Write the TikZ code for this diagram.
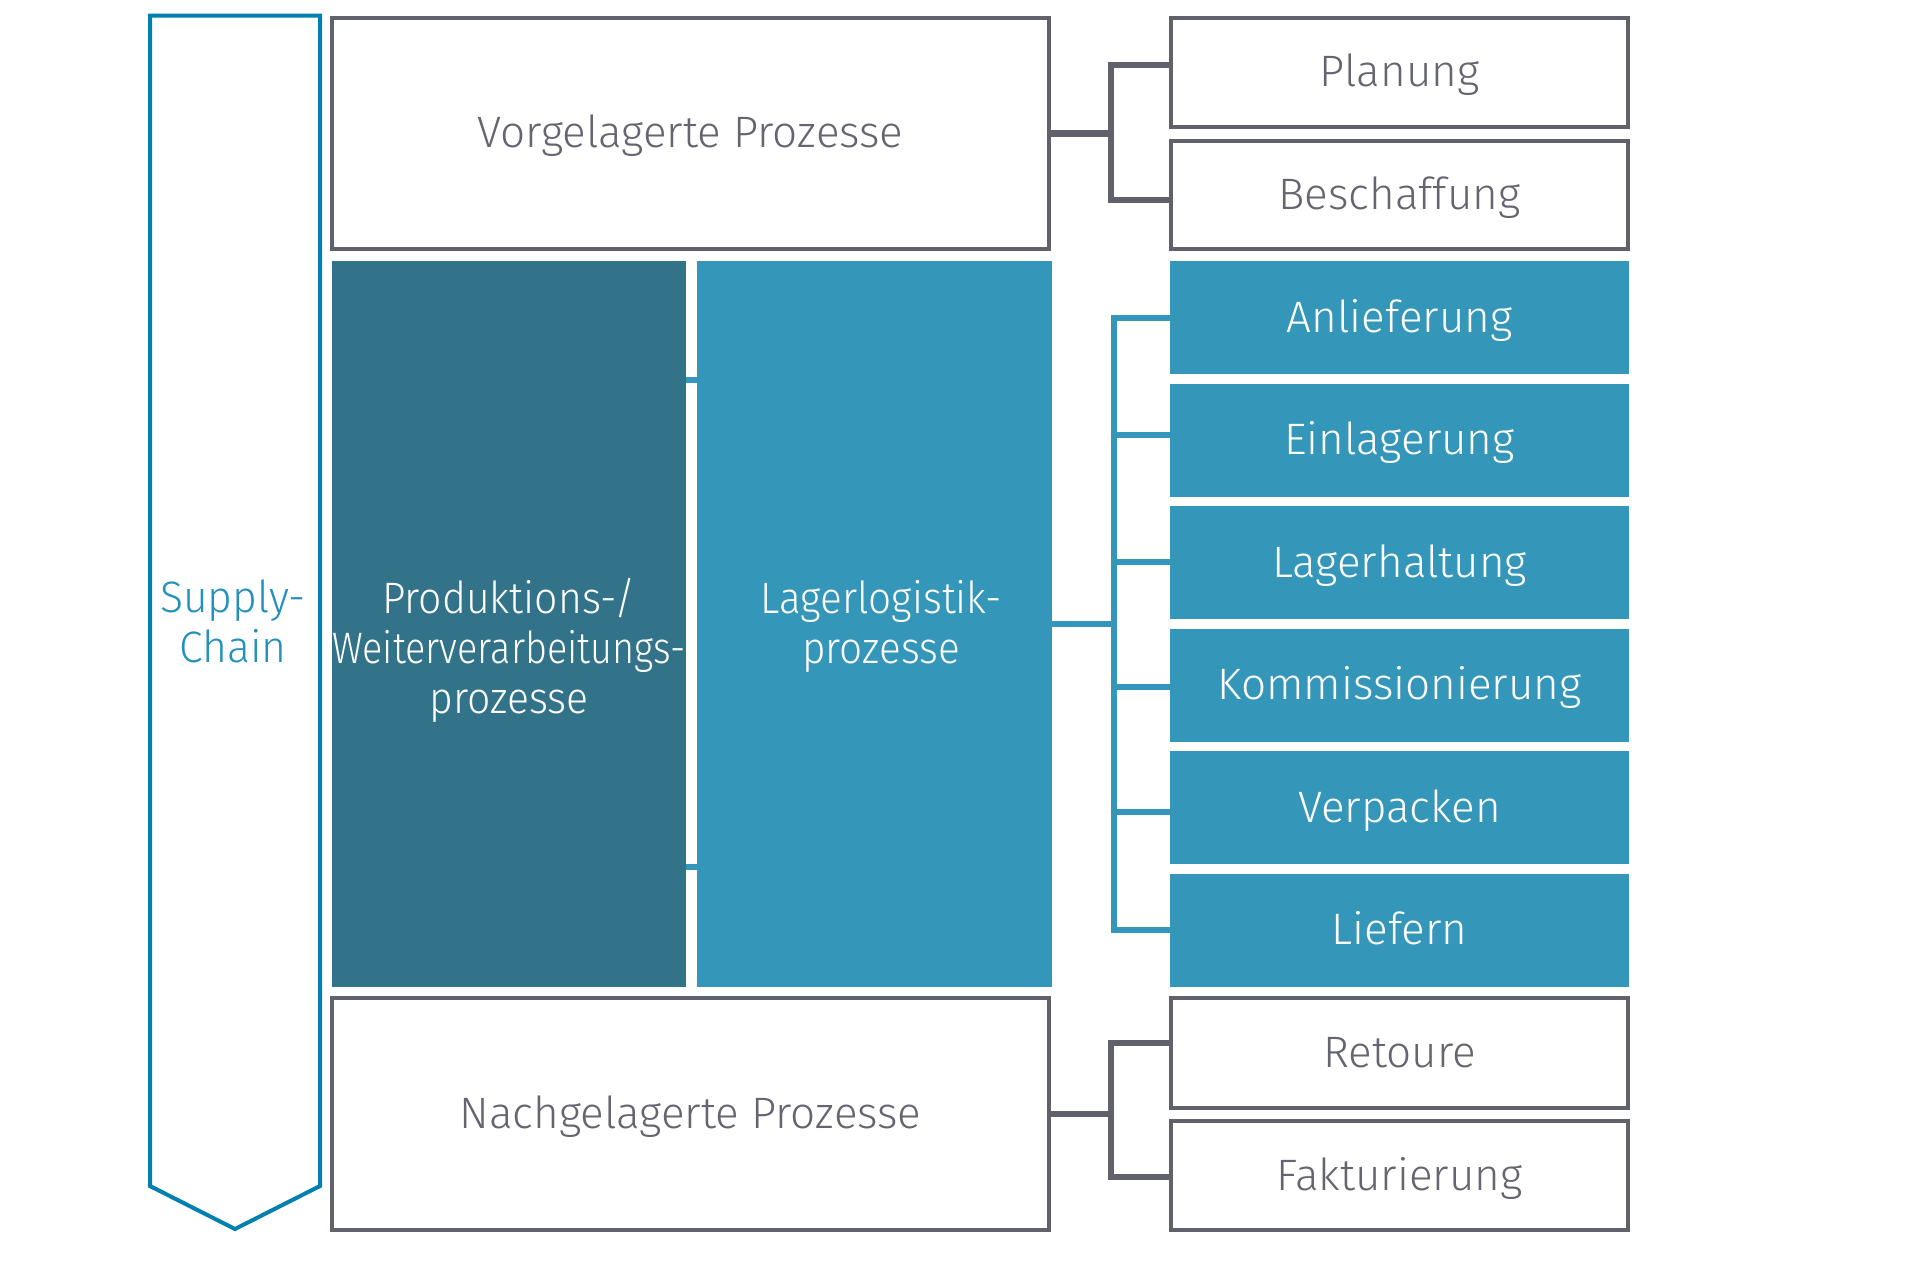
\documentclass[tikz,border=0pt]{standalone}
\usepackage{fontspec}
\usepackage{graphicx}
\setmainfont{Fira Sans Light}
\usetikzlibrary{calc}
\definecolor{cgray}{RGB}{96,97,106}
\definecolor{ctext}{RGB}{100,101,112}
\definecolor{cchain}{RGB}{0,128,175}
\definecolor{cchaintext}{RGB}{35,145,190}
\definecolor{clight}{RGB}{52,150,185}
\definecolor{cdark}{RGB}{51,115,138}
\newcommand{\cnd}[2][0.93]{\scalebox{#1}[1]{#2}}
\begin{document}
\begin{tikzpicture}[x=1pt,y=-1pt,
  txt/.style={font=\fontsize{44}{50}\selectfont},
  gbox/.style={txt, draw=cgray, line width=4pt, fill=white, inner sep=0pt, outer sep=0pt,
    text=ctext, text height=29pt, text depth=0pt, minimum width=457pt},
  bbox/.style={txt, fill=clight, inner sep=0pt, outer sep=0pt, text=white,
    text height=29pt, text depth=0pt, minimum width=459pt, minimum height=113pt},
  bigbox/.style={inner sep=0pt, outer sep=0pt, minimum height=726pt},
  gline/.style={draw=cgray, line width=6.5pt, line join=miter},
  bline/.style={draw=clight, line width=6.5pt, line join=miter},
]
\useasboundingbox[fill=white] (0,0) rectangle (1920,1262);

% Supply chain arrow
\draw[cchain, line width=4pt, line join=miter] (150,15.5) -- (320,15.5) -- (320,1186) -- (235,1229) -- (150,1186) -- cycle;
\node[txt, text=cchaintext, align=center, inner sep=0pt] (sc) at (233,621) {\cnd[0.97]{Supply-}\\\cnd[0.97]{Chain}};

% Main column
\node[gbox, minimum width=717pt, minimum height=231.5pt] (vor) at (690.5,133.25) {Vorgelagerte Prozesse};
\node[bigbox, fill=cdark, minimum width=354pt] (dark) at (509,624) {};
\node[bigbox, fill=clight, minimum width=355pt] (light) at (874.5,624) {};
\node[txt, text=white, align=center, inner sep=0pt] (darkt) at (509,650) {\cnd{Produktions-/}\\\cnd[0.86]{Weiterverarbeitungs-}\\\cnd{prozesse}};
\node[txt, text=white, align=center, inner sep=0pt] (lightt) at (881,626) {\cnd[0.92]{Lagerlogistik-}\\\cnd[0.92]{prozesse}};
\node[gbox, minimum width=717pt, minimum height=232pt] (nach) at (690.5,1114) {Nachgelagerte Prozesse};

% Right column
\node[gbox, minimum height=109pt] (plan) at (1399.5,72) {Planung};
\node[gbox, minimum height=107.5pt] (besch) at (1399.5,194.75) {Beschaffung};
\node[bbox] (anl) at (1399.5,317.5) {Anlieferung};
\node[bbox] (einl) at (1399.5,440) {Einlagerung};
\node[bbox] (lagh) at (1399.5,562.5) {Lagerhaltung};
\node[bbox] (komm) at (1399.5,685) {Kommissionierung};
\node[bbox] (verp) at (1399.5,807.5) {Verpacken};
\node[bbox] (lief) at (1399.5,930) {Liefern};
\node[gbox, minimum height=110pt] (ret) at (1399.5,1053) {Retoure};
\node[gbox, minimum height=109pt] (fakt) at (1399.5,1175.5) {Fakturierung};

% Top bracket
\coordinate (gt) at (1111,65);
\coordinate (gb) at (1111,200);
\draw[gline] (gt -| plan.west) -- (gt) -- (gb) -- (gb -| besch.west);
\draw[gline] (vor.east) -- (vor.east -| gt);

% Blue bracket
\coordinate (bt) at (1114,318);
\coordinate (bb) at (1114,930);
\coordinate (b2) at (1114,435);
\coordinate (b3) at (1114,562);
\coordinate (b4) at (1114,687);
\coordinate (b5) at (1114,812);
\draw[bline] (bt -| anl.west) -- (bt) -- (bb) -- (bb -| lief.west);
\draw[bline] (b2) -- (b2 -| einl.west);
\draw[bline] (b3) -- (b3 -| lagh.west);
\draw[bline] (b4) -- (b4 -| komm.west);
\draw[bline] (b5) -- (b5 -| verp.west);
\draw[bline] (light.east) -- (light.east -| bt);

% Links between production and warehouse
\coordinate (s1) at (690,380);
\coordinate (s2) at (690,867);
\draw[bline] (dark.east |- s1) -- (light.west |- s1);
\draw[bline] (dark.east |- s2) -- (light.west |- s2);

% Bottom bracket
\coordinate (ht) at (1111,1043);
\coordinate (hb) at (1111,1177);
\draw[gline] (ht -| ret.west) -- (ht) -- (hb) -- (hb -| fakt.west);
\draw[gline] (nach.east) -- (nach.east -| ht);
\end{tikzpicture}
\end{document}
